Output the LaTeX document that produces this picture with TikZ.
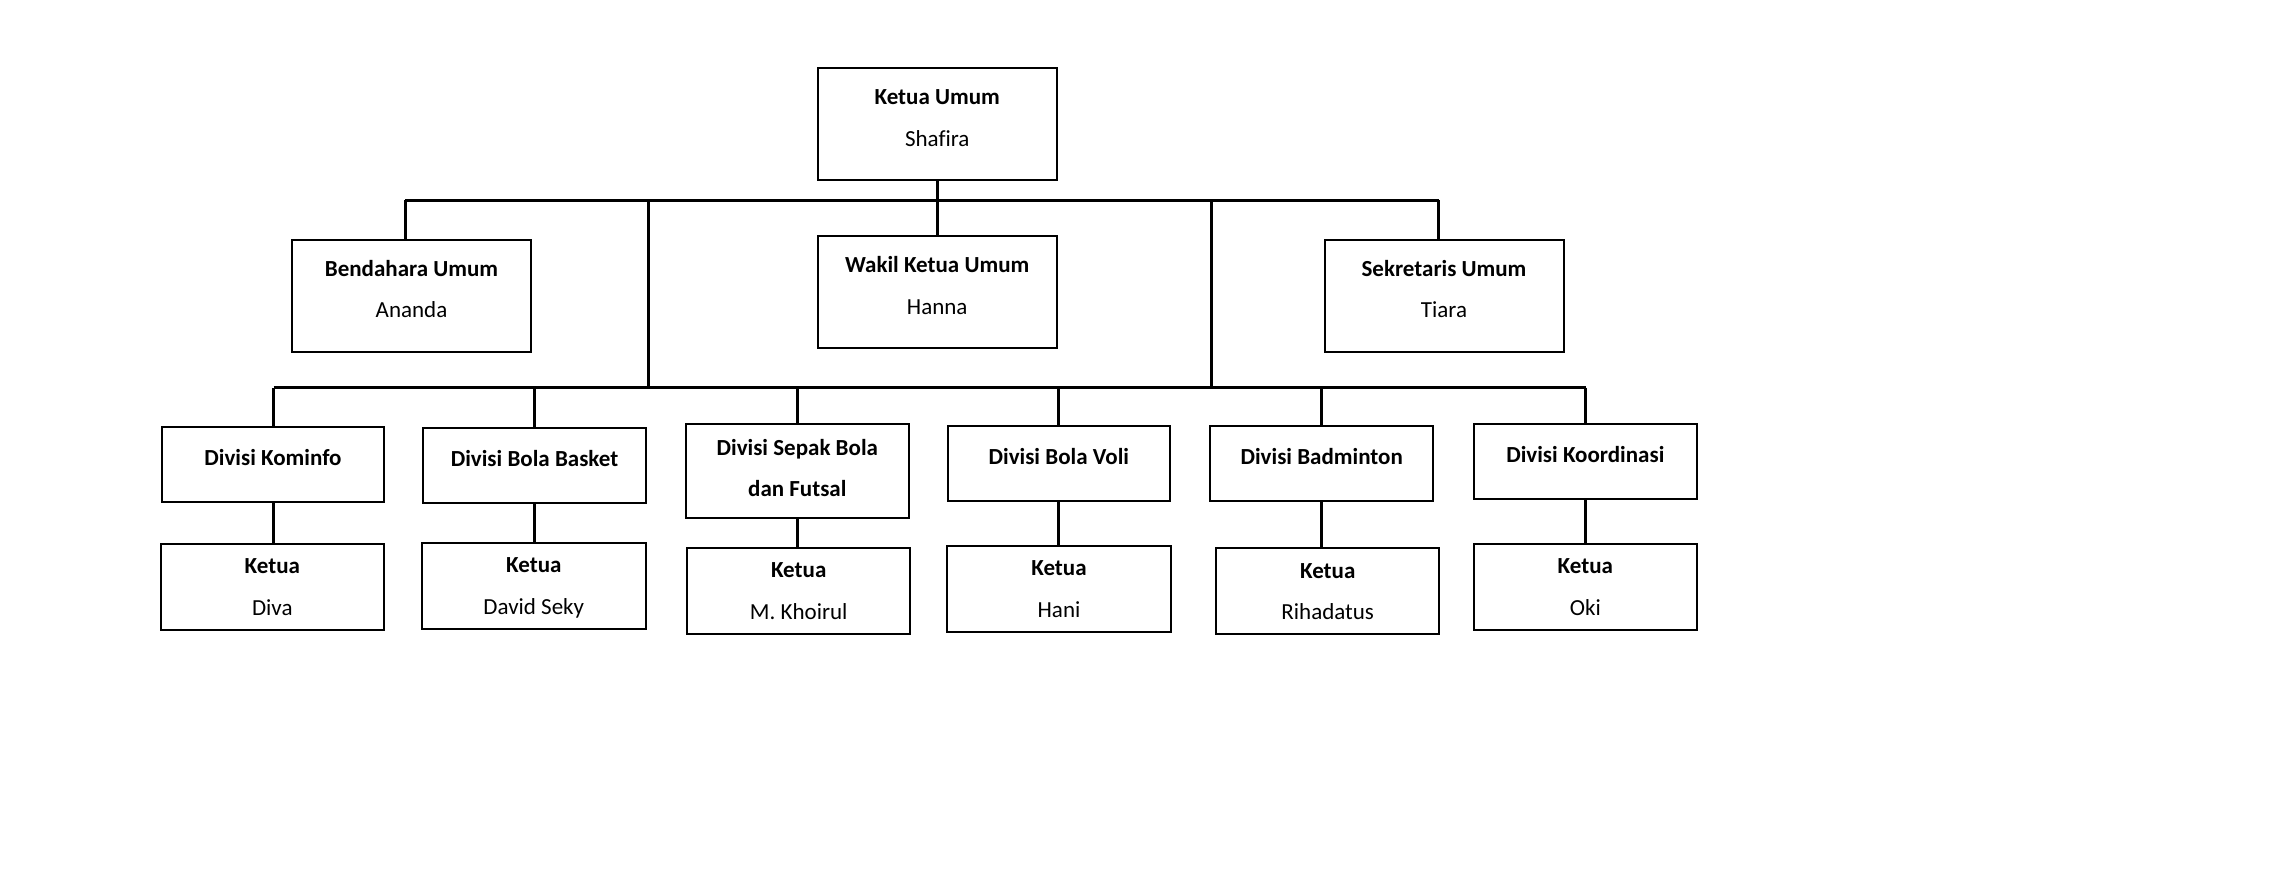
\documentclass[tikz,border=0pt]{standalone}
\usepackage{fontspec}
\setmainfont{Carlito}[Ligatures=NoCommon]
\usepackage{tikz}

\tikzset{
	jabatan/.style={draw, line width=1pt, inner sep=0pt, align=center, minimum width=119.5pt, text height=39pt, text depth=17pt},
	divisi/.style={draw, line width=1pt, inner sep=0pt, align=center, minimum width=111.25pt, text height=19.25pt, text depth=18.25pt},
	ketua/.style={draw, line width=1pt, inner sep=0pt, align=center, minimum width=111.75pt, text height=35.75pt, text depth=7.25pt},
	garis/.style={line width=1.5pt}
}

\begin{document}
\begin{tikzpicture}[x=0.5pt, y=-0.5pt, font=\fontsize{11.5pt}{20.75pt}\selectfont]
		%%%%% START %%%%%
		\useasboundingbox (0, 0) rectangle (2282, 878);
		
		\node[jabatan] (umum) at (937.2, 124.2) {\textbf{Ketua Umum}\\Shafira};
		\node[jabatan] (wakil) at (937.2, 292.2) {\textbf{Wakil Ketua Umum}\\Hanna};
		\node[jabatan] (bendahara) at (411.5, 295.5) {\textbf{Bendahara Umum}\\Ananda};
		\node[jabatan] (sekretaris) at (1444, 295.5) {\textbf{Sekretaris Umum}\\Tiara};
		
		\coordinate (atasL) at (405, 200);
		\coordinate (atasR) at (1438.5, 200);
		\coordinate (bawahL) at (273.6, 387.7);
		\coordinate (bawahR) at (1586, 387.7);
		\coordinate (tiangL) at (648.7, 200);
		\coordinate (tiangR) at (1211.5, 200);
		
		\draw[garis] (atasL) -- (atasR);
		\draw[garis] (umum.south) -- (wakil.north);
		\draw[garis] (atasL) -- (atasL |- bendahara.north);
		\draw[garis] (atasR) -- (atasR |- sekretaris.north);
		\draw[garis] (tiangL) -- (tiangL |- bawahL);
		\draw[garis] (tiangR) -- (tiangR |- bawahL);
		\draw[garis] (bawahL) -- (bawahR);
		
		% divisi
		\node[divisi] (kominfo) at (273, 464.8) {\textbf{Divisi Kominfo}};
		\node[divisi] (basket) at (534.5, 465.8) {\textbf{Divisi Bola Basket}};
		\node[divisi, text height=36.2pt, text depth=10.8pt] (sepakbola) at (797.3, 471.3) {\textbf{Divisi Sepak Bola}\\\textbf{dan Futsal}};
		\node[divisi] (voli) at (1058.8, 463.3) {\textbf{Divisi Bola Voli}};
		\node[divisi] (badminton) at (1321.7, 463.8) {\textbf{Divisi Badminton}};
		\node[divisi] (koordinasi) at (1585.3, 461.5) {\textbf{Divisi Koordinasi}};
		
		% ketua divisi
		\node[ketua] (kkominfo) at (272.3, 586.5) {\textbf{Ketua}\\Diva};
		\node[ketua] (kbasket) at (533.8, 585.7) {\textbf{Ketua}\\David Seky};
		\node[ketua] (ksepakbola) at (798.7, 590.8) {\textbf{Ketua}\\M. Khoirul};
		\node[ketua] (kvoli) at (1059, 588.8) {\textbf{Ketua}\\Hani};
		\node[ketua] (kbadminton) at (1327.7, 591.3) {\textbf{Ketua}\\Rihadatus};
		\node[ketua] (kkoordinasi) at (1585.3, 586.8) {\textbf{Ketua}\\Oki};
		
		\foreach \d in {kominfo, basket, sepakbola, voli, badminton, koordinasi}{
			\draw[garis] (\d.north |- bawahL) -- (\d.north);
			\draw[garis] (\d.south) -- (\d.south |- k\d.north);
		}
		%%%%% END %%%%%
\end{tikzpicture}
\end{document}
